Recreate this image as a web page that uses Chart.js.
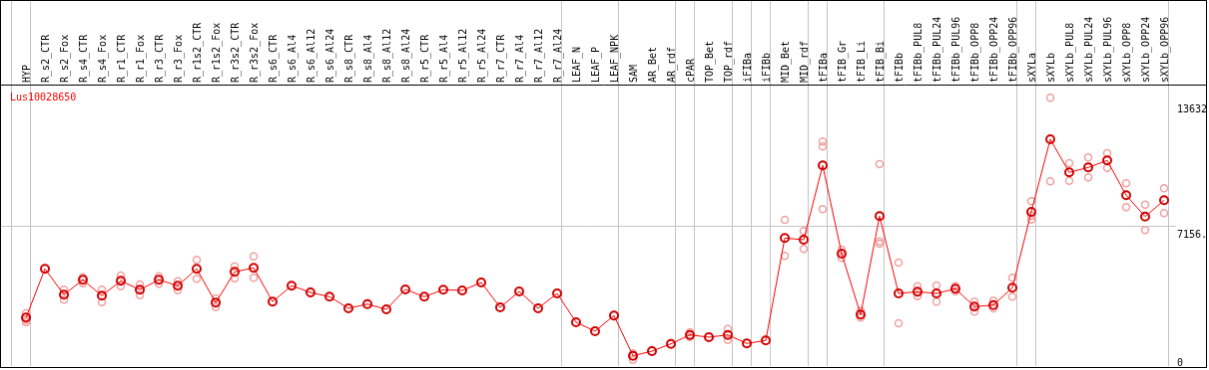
<!DOCTYPE html>
<html>
<head>
<meta charset="utf-8">
<script src="https://cdn.jsdelivr.net/npm/chart.js@4/dist/chart.umd.min.js"></script>
<style>
  body { margin: 0; background: #fff; }
  #grafico { display: block; border: 1px solid #000; }
</style>
</head>
<body>
<canvas id="grafico" width="1207" height="368"></canvas>
<script>
const nomeGene = 'Lus10028650';

const categorias = [
    'HYP', 'R_s2_CTR', 'R_s2_Fox', 'R_s4_CTR', 'R_s4_Fox', 'R_r1_CTR', 'R_r1_Fox', 'R_r3_CTR', 'R_r3_Fox',
    'R_r1s2_CTR', 'R_r1s2_Fox', 'R_r3s2_CTR', 'R_r3s2_Fox', 'R_s6_CTR', 'R_s6_Al4', 'R_s6_Al12', 'R_s6_Al24',
    'R_s8_CTR', 'R_s8_Al4', 'R_s8_Al12', 'R_s8_Al24', 'R_r5_CTR', 'R_r5_Al4', 'R_r5_Al12', 'R_r5_Al24',
    'R_r7_CTR', 'R_r7_Al4', 'R_r7_Al12', 'R_r7_Al24', 'LEAF_N', 'LEAF_P', 'LEAF_NPK', 'SAM', 'AR_Bet', 'AR_rdf',
    'cPAR', 'TOP_Bet', 'TOP_rdf', 'iFIBa', 'iFIBb', 'MID_Bet', 'MID_rdf', 'tFIBa', 'tFIB_Gr', 'tFIB_Li', 'tFIB_Bi',
    'tFIBb', 'tFIBb_PUL8', 'tFIBb_PUL24', 'tFIBb_PUL96', 'tFIBb_OPP8', 'tFIBb_OPP24', 'tFIBb_OPP96',
    'sXYLa', 'sXYLb', 'sXYLb_PUL8', 'sXYLb_PUL24', 'sXYLb_PUL96', 'sXYLb_OPP8', 'sXYLb_OPP24', 'sXYLb_OPP96'
];

// media de cada amostra
const medias = [
    2489, 4994, 3665, 4432, 3614, 4380, 3920, 4432, 4125,
    4994, 3256, 4840, 5045, 3307, 4125, 3782, 3563,
    2965, 3184, 2913, 3936, 3563, 3920, 3885, 4294,
    3016, 3834, 2965, 3731, 2249, 1789, 2591, 526, 767, 1140,
    1600, 1482, 1600, 1160, 1314, 6578, 6491, 10310, 5776, 2643, 7703,
    3731, 3818, 3731, 3972, 3052, 3133, 4023,
    7923, 11654, 9952, 10208, 10565, 8776, 7683, 8521
];

// replicas (null = escondida atras da media)
const replicaA = [
    2709, null, 3920, 4564, 3920, 4651, 4191, 4616, 4360,
    5454, 3476, 5127, 5638, null, null, null, null,
    null, null, null, null, null, null, null, null,
    null, null, null, null, null, null, null, 649, null, null,
    1738, null, 1907, null, null, 7514, 6936, 11536, 5980, 2827, 10376,
    5316, 4104, 4140, 4104, 3307, 3358, 4534,
    8470, 13785, 10427, 10719, 10938, 9390, 8296, 9134
];
const replicaB = [
    2367, null, 3409, 4258, 3287, 4104, 3644, 4227, 3900,
    4483, 3031, 4513, 4534, null, null, null, null,
    null, null, null, null, null, null, null, null,
    null, null, null, null, null, null, null, 322, null, null,
    1498, null, 1344, null, null, 5658, 6016, 8061, 5556, 2489, 6405,
    2198, 3593, 3307, 3849, 2796, 2965, 3563,
    7529, 9492, 9523, 9696, 10187, 8163, 6987, 7856
];
const replicaC = [
    2249, null, null, null, null, null, null, null, null,
    null, null, null, null, null, null, null, null,
    null, null, null, null, null, null, null, null,
    null, null, null, null, null, null, null, null, null, null,
    null, null, null, null, null, null, null, 11281, null, null, 6287,
    null, null, null, null, null, null, null,
    7734, null, null, null, null, null, null, null
];

// indice da ultima amostra de cada grupo (linhas cinza)
const fimDosGrupos = [-1, 0, 28, 31, 34, 35, 37, 38, 39, 41, 42, 45, 52, 53, 60];

const valoresEixoY = [0, 7156, 13632];
const rotulosEixoY = ['0', '7156.', '13632'];

const fonteX = { family: 'DejaVu Sans Mono', size: 10, lineHeight: 1.1 };
const fonteY = { family: 'DejaVu Sans Mono', size: 10, lineHeight: 1.15 };
const cinza = '#c4c4c4';
const desvioGrade = 4 / 19;

function pontos(valores) {
    return valores.map((v, i) => ({ x: i, y: v })).filter(p => p.y !== null);
}

function ehLinhaDeGrupo(ctx) {
    return ctx.tick && !Number.isInteger(ctx.tick.value);
}

const moldura = {
    id: 'moldura',
    afterDraw(chart) {
        const { ctx, chartArea } = chart;
        ctx.save();
        ctx.strokeStyle = '#000';
        ctx.lineWidth = 1;
        ctx.beginPath();
        ctx.moveTo(0, chartArea.top + 0.5);
        ctx.lineTo(chart.width, chartArea.top + 0.5);
        ctx.stroke();
        ctx.fillStyle = '#ff0000';
        ctx.font = '10px "DejaVu Sans Mono"';
        ctx.textBaseline = 'middle';
        ctx.fillText(nomeGene, chartArea.left + 9, chartArea.top + 13);
        ctx.restore();
    }
};

const replicaEstilo = {
    type: 'line',
    showLine: false,
    pointRadius: 3.5,
    pointBorderWidth: 1.5,
    pointBorderColor: '#f0a0a0',
    pointBackgroundColor: 'rgba(0,0,0,0)',
    pointHoverRadius: 3.5
};

const grafico = new Chart(document.getElementById('grafico'), {
    type: 'line',
    data: {
        datasets: [
            {
                label: nomeGene,
                data: pontos(medias),
                borderColor: '#ff0000',
                borderWidth: 1,
                pointRadius: 4,
                pointBorderWidth: 2,
                pointBorderColor: '#d00000',
                pointBackgroundColor: 'rgba(0,0,0,0)'
            },
            Object.assign({ label: 'rep A', data: pontos(replicaA) }, replicaEstilo),
            Object.assign({ label: 'rep B', data: pontos(replicaB) }, replicaEstilo),
            Object.assign({ label: 'rep C', data: pontos(replicaC) }, replicaEstilo)
        ]
    },
    options: {
        responsive: false,
        animation: false,
        layout: { autoPadding: false, padding: { left: 0, right: 0, top: 0, bottom: 1 } },
        plugins: {
            legend: { display: false },
            tooltip: { enabled: false }
        },
        scales: {
            x: {
                type: 'linear',
                position: 'top',
                min: -25 / 19,
                max: 1152 / 19,
                afterBuildTicks: scale => {
                    const t = categorias.map((c, i) => i)
                        .concat(fimDosGrupos.map(g => g + desvioGrade))
                        .sort((a, b) => a - b);
                    scale.ticks = t.map(v => ({ value: v }));
                },
                afterFit: scale => {
                    scale.height = 84;
                    scale.paddingLeft = 0;
                    scale.paddingRight = 0;
                },
                ticks: {
                    autoSkip: false,
                    minRotation: 90,
                    maxRotation: 90,
                    padding: -82,
                    labelOffset: 12,
                    color: '#000',
                    font: fonteX,
                    callback: value => Number.isInteger(value) ? categorias[value] : ''
                },
                grid: {
                    drawTicks: true,
                    tickLength: 84,
                    lineWidth: 1,
                    color: ctx => ehLinhaDeGrupo(ctx) ? cinza : 'rgba(0,0,0,0)',
                    tickColor: ctx => ehLinhaDeGrupo(ctx) ? cinza : 'rgba(0,0,0,0)'
                },
                border: { display: false }
            },
            y: {
                type: 'linear',
                position: 'right',
                min: 0,
                max: 14465,
                afterBuildTicks: scale => {
                    scale.ticks = valoresEixoY.map(v => ({ value: v }));
                },
                afterFit: scale => {
                    scale.width = 30;
                    scale.paddingTop = 0;
                    scale.paddingBottom = 0;
                },
                ticks: {
                    padding: 1,
                    labelOffset: 3,
                    color: '#000',
                    font: fonteY,
                    callback: value => {
                        const texto = rotulosEixoY[valoresEixoY.indexOf(value)];
                        return value === 0 ? [texto, ''] : ['', texto];
                    }
                },
                grid: {
                    drawTicks: false,
                    lineWidth: 1,
                    color: ctx => ctx.tick && ctx.tick.value === 7156 ? cinza : 'rgba(0,0,0,0)'
                },
                border: { display: false }
            }
        }
    },
    plugins: [moldura]
});
</script>
</body>
</html>
